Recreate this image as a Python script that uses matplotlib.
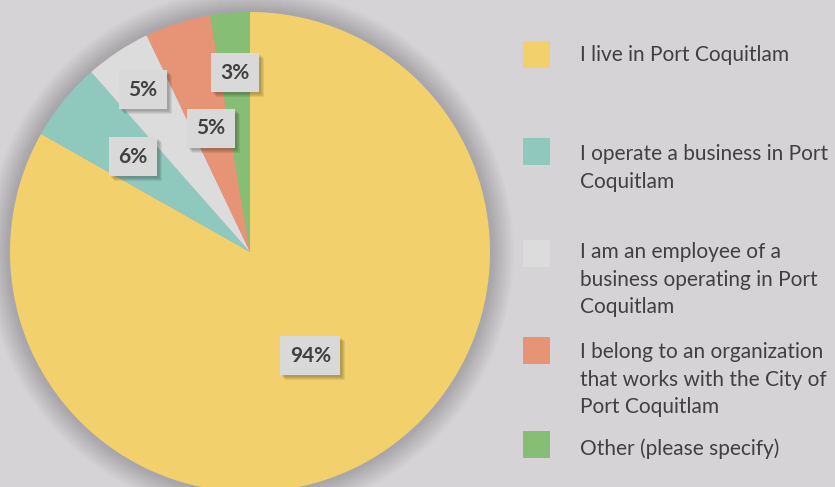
import numpy as np
import matplotlib.pyplot as plt
from matplotlib.patches import Circle, Rectangle

# Datos
categorias = [
    "I live in Port Coquitlam",
    "I operate a business in Port\nCoquitlam",
    "I am an employee of a\nbusiness operating in Port\nCoquitlam",
    "I belong to an organization\nthat works with the City of\nPort Coquitlam",
    "Other (please specify)",
]
valores = [94, 6, 5, 5, 3]
etiquetas = ["94%", "6%", "5%", "5%", "3%"]
colores = ["#f2d16d", "#8fc9bd", "#dcdcdc", "#e69475", "#85be74"]

fondo = "#d5d3d6"
texto = "#404040"
label_dist = [0.5, 0.63, 0.81, 0.54, 0.75]

# Figura en coordenadas de pixel
fig = plt.figure(figsize=(8.35, 4.87), dpi=100, facecolor=fondo)
ax = fig.add_axes([0, 0, 1, 1])

cx, cy, r = 250, 487 - 252, 240

# Sombra suave del pastel
for i in range(24):
    ax.add_patch(Circle((cx, cy), r + 24 - i, facecolor="#6e6a72",
                        alpha=0.014, lw=0, zorder=1))

wedges, _ = ax.pie(valores, colors=colores, startangle=90, counterclock=False,
                   center=(cx, cy), radius=r, wedgeprops=dict(linewidth=0))
for w in wedges:
    w.set_zorder(2)

ax.set_xlim(0, 835)
ax.set_ylim(0, 487)
ax.set_aspect("equal")
ax.axis("off")

# Etiquetas con caja y sombra
for w, lab, d in zip(wedges, etiquetas, label_dist):
    ang = np.deg2rad((w.theta1 + w.theta2) / 2)
    x = cx + d * r * np.cos(ang)
    y = cy + d * r * np.sin(ang)
    bw = 48 if len(lab) == 2 else 60
    bh = 39
    for k in range(4):
        ax.add_patch(Rectangle((x - bw / 2 + 2 + k, y - bh / 2 - 2 - k), bw, bh,
                               facecolor="black", alpha=0.07, lw=0, zorder=3))
    ax.add_patch(Rectangle((x - bw / 2, y - bh / 2), bw, bh,
                           facecolor="#d9d9d9", lw=0, zorder=4))
    ax.text(x, y, lab, ha="center", va="center", fontsize=15, fontweight="bold",
            color=texto, family="Lato", zorder=5)

# Leyenda manual
sq_y = [54, 151, 253, 350, 444]
tx_y = [53, 152, 250, 350, 446]
for col, cat, sy, ty in zip(colores, categorias, sq_y, tx_y):
    ax.add_patch(Rectangle((523, 487 - sy - 13.5), 27, 27, facecolor=col, lw=0))
    ax.text(580, 487 - ty + 8, cat, ha="left", va="top", fontsize=15,
            color=texto, family="Lato", linespacing=1.48)

fig.savefig("out.png", dpi=100, facecolor=fondo)
